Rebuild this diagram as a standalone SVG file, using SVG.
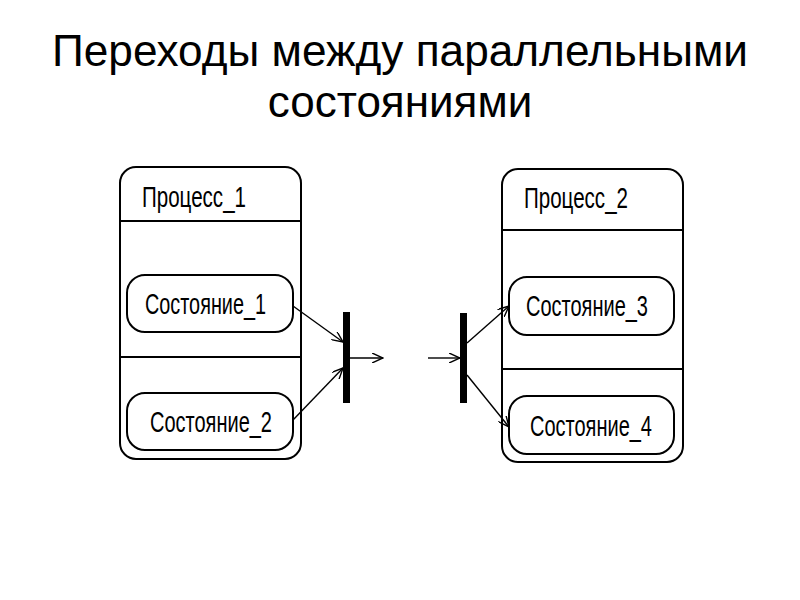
<svg xmlns="http://www.w3.org/2000/svg" width="800" height="600" viewBox="0 0 800 600">
<style>
.title{font-family:"Liberation Sans",Arial,sans-serif;font-size:44px;fill:#000;text-anchor:middle}
.lbl{font-family:"Liberation Sans",Arial,sans-serif;font-size:29px;fill:#000}
.box{fill:#fff;stroke:#000;stroke-width:2}
.ln{stroke:#000;stroke-width:2;fill:none}
.con{stroke:#000;stroke-width:1.4;fill:none;marker-end:url(#arr)}
.bar{fill:#000}
</style>
<defs>
<marker id="arr" viewBox="0 0 12 10" refX="11" refY="5" markerWidth="12" markerHeight="10" markerUnits="userSpaceOnUse" orient="auto">
<path d="M0,0 L11,5 L0,10" fill="none" stroke="#000" stroke-width="1.4"/>
</marker>
</defs>
<rect width="800" height="600" fill="#fff"/>
<text class="title" x="400" y="66" textLength="696" lengthAdjust="spacingAndGlyphs">Переходы между параллельными</text>
<text class="title" x="400" y="117">состояниями</text>
<g id="process1">
<rect class="box" x="120" y="167" width="181" height="292" rx="16"/>
<line class="ln" x1="120" y1="221" x2="301" y2="221"/>
<line class="ln" x1="120" y1="357" x2="301" y2="357"/>
<text class="lbl" x="142" y="207" textLength="104" lengthAdjust="spacingAndGlyphs">Процесс_1</text>
</g>
<g id="state1">
<rect class="box" x="127" y="275" width="166" height="57" rx="18"/>
<text class="lbl" x="145" y="314" textLength="121" lengthAdjust="spacingAndGlyphs">Состояние_1</text>
</g>
<g id="state2">
<rect class="box" x="127" y="393" width="166" height="57" rx="18"/>
<text class="lbl" x="150" y="432" textLength="122" lengthAdjust="spacingAndGlyphs">Состояние_2</text>
</g>
<g id="process2">
<rect class="box" x="502" y="169" width="181" height="293" rx="16"/>
<line class="ln" x1="502" y1="230" x2="683" y2="230"/>
<line class="ln" x1="502" y1="369" x2="683" y2="369"/>
<text class="lbl" x="524" y="208" textLength="104" lengthAdjust="spacingAndGlyphs">Процесс_2</text>
</g>
<g id="state3">
<rect class="box" x="509" y="277" width="165" height="58" rx="18"/>
<text class="lbl" x="526" y="316" textLength="122" lengthAdjust="spacingAndGlyphs">Состояние_3</text>
</g>
<g id="state4">
<rect class="box" x="509" y="396" width="165" height="58" rx="18"/>
<text class="lbl" x="530" y="436" textLength="122" lengthAdjust="spacingAndGlyphs">Состояние_4</text>
</g>
<g id="fork1"><rect class="bar" x="343" y="312" width="7" height="91"/></g>
<g id="fork2"><rect class="bar" x="460" y="313" width="7" height="90"/></g>
<g id="connectors">
<line class="con" x1="293" y1="306" x2="343" y2="342"/>
<line class="con" x1="293" y1="420" x2="343" y2="368"/>
<line class="con" x1="350" y1="358" x2="383" y2="358"/>
<line class="con" x1="428" y1="358" x2="460" y2="358"/>
<line class="con" x1="467" y1="343" x2="509" y2="306"/>
<line class="con" x1="467" y1="375" x2="509" y2="427"/>
</g>
</svg>
